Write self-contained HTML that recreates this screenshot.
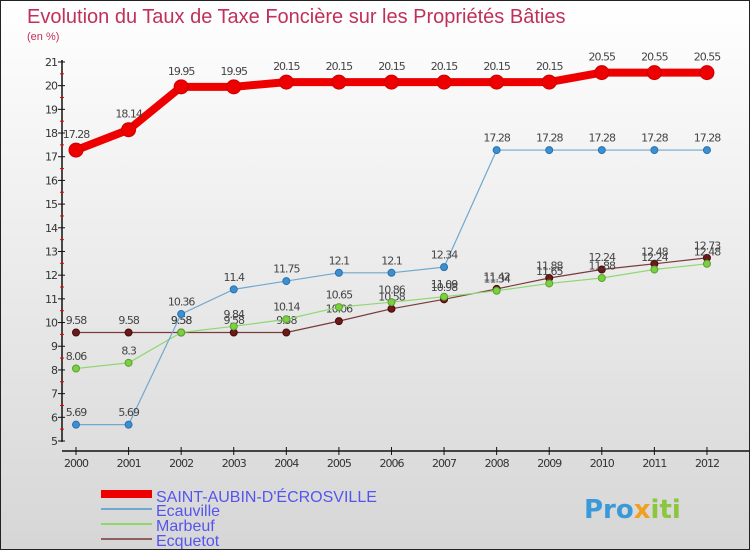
<!DOCTYPE html>
<html><head><meta charset="utf-8"><style>
body{margin:0}
#c{width:750px;height:550px;position:relative;overflow:hidden;background:linear-gradient(#ffffff,#d6d6d6);border:1px solid #222;box-sizing:border-box;font-family:"Liberation Sans",sans-serif}
text{font-family:"DejaVu Sans","Liberation Sans",sans-serif}
text.lib{font-family:"Liberation Sans",sans-serif}
</style></head><body>
<div id="c">
<svg id="s" width="750" height="550">
<text class="lib" x="26" y="22" font-size="20" fill="#c0305a">Evolution du Taux de Taxe Foncière sur les Propriétés Bâties</text>
<text class="lib" x="26" y="39" font-size="11" fill="#c0305a">(en %)</text>
<g id="axes"></g><g id="series"></g>
<g>
<rect x="100" y="489" width="51" height="8" fill="#e00"/>
<text class="lib" x="155" y="501" font-size="16" fill="#5555ee">SAINT-AUBIN-D'ÉCROSVILLE</text>
<rect x="100" y="507" width="51" height="2" fill="#6fa8d0"/>
<text class="lib" x="155" y="515" font-size="16" fill="#5555ee">Ecauville</text>
<rect x="100" y="522" width="51" height="2" fill="#8fd870"/>
<text class="lib" x="155" y="530" font-size="16" fill="#5555ee">Marbeuf</text>
<rect x="100" y="537" width="51" height="2" fill="#906060"/>
<text class="lib" x="155" y="545" font-size="16" fill="#5555ee">Ecquetot</text>
</g>
<text x="583" y="517" font-size="26" font-weight="bold" fill="#3a9ad9">Pro<tspan fill="#f0a020">x</tspan><tspan fill="#8cc63f">iti</tspan></text>
</svg>
</div>
<script>
const years=[2000,2001,2002,2003,2004,2005,2006,2007,2008,2009,2010,2011,2012];
const yTicks=[5,6,7,8,9,10,11,12,13,14,15,16,17,18,19,20,21];
const saintAubin=[17.28,18.14,19.95,19.95,20.15,20.15,20.15,20.15,20.15,20.15,20.55,20.55,20.55];
const ecauville=[5.69,5.69,10.36,11.4,11.75,12.1,12.1,12.34,17.28,17.28,17.28,17.28,17.28];
const marbeuf=[8.06,8.3,9.58,9.84,10.14,10.65,10.86,11.09,11.34,11.65,11.88,12.24,12.48];
const ecquetot=[9.58,9.58,9.58,9.58,9.58,10.06,10.58,10.98,11.42,11.88,12.24,12.48,12.73];
const NS="http://www.w3.org/2000/svg";
const X=i=>75+i*52.58, Y=v=>440-(v-5)*23.69;
function mk(tag,attrs,parent){const e=document.createElementNS(NS,tag);for(const k in attrs)e.setAttribute(k,attrs[k]);parent.appendChild(e);return e;}
const ax=document.getElementById('axes');
let a=mk('line',{x1:61,y1:59,x2:61,y2:441,stroke:'#111','stroke-width':1.5},ax);


a=mk('line',{x1:61,y1:450,x2:750,y2:450,stroke:'#111','stroke-width':1.5},ax);


yTicks.forEach(v=>{
 mk('line',{x1:57,x2:64,y1:Y(v),y2:Y(v),stroke:'#111'},ax);
 if(v<21) mk('line',{x1:59,x2:63,y1:Y(v+0.5),y2:Y(v+0.5),stroke:'#e00'},ax);
 const t=mk('text',{x:56,y:Y(v)+4,'font-size':11,'text-anchor':'end',fill:'#333','letter-spacing':'-1'},ax);
 t.textContent=v;
 
 
});
years.forEach((y,i)=>{
 mk('line',{x1:X(i),x2:X(i),y1:446,y2:454,stroke:'#111'},ax);
 const t=mk('text',{x:X(i),y:466,'font-size':11,'text-anchor':'middle',fill:'#333','letter-spacing':'-1'},ax);
 t.textContent=y;
 
 
});
const sg=document.getElementById('series');
function series(name,vals,color,dot,w,r,stroke){
 const g=mk('g',{},sg);
 
 
 const l=mk('polyline',{points:vals.map((v,i)=>X(i)+','+Y(v)).join(' '),fill:'none',stroke:color,'stroke-width':w,'stroke-linejoin':'round'},g);
 
 
 vals.forEach((v,i)=>{
  const c=mk('circle',{cx:X(i),cy:Y(v),r:r,fill:dot,stroke:stroke,'stroke-width':1},g);
  
  
  const t=mk('text',{x:X(i),y:Y(v)-(r+5),'font-size':11,'text-anchor':'middle',fill:'#444','letter-spacing':'-1'},g);
  t.textContent=v;
  
  
 });
}
series('ecquetot',ecquetot,'#7a3a3a','#6a1a1a',1.2,3.5,'#4a0a0a');
series('marbeuf',marbeuf,'#8fd870','#7ad040',1.2,3.5,'#5aa030');
series('ecauville',ecauville,'#6fa8d0','#3a90d0',1.2,3.5,'#2a70b0');
series('saint-aubin',saintAubin,'#e00','#e00',8,7,'#c00');
</script>
</body></html>
